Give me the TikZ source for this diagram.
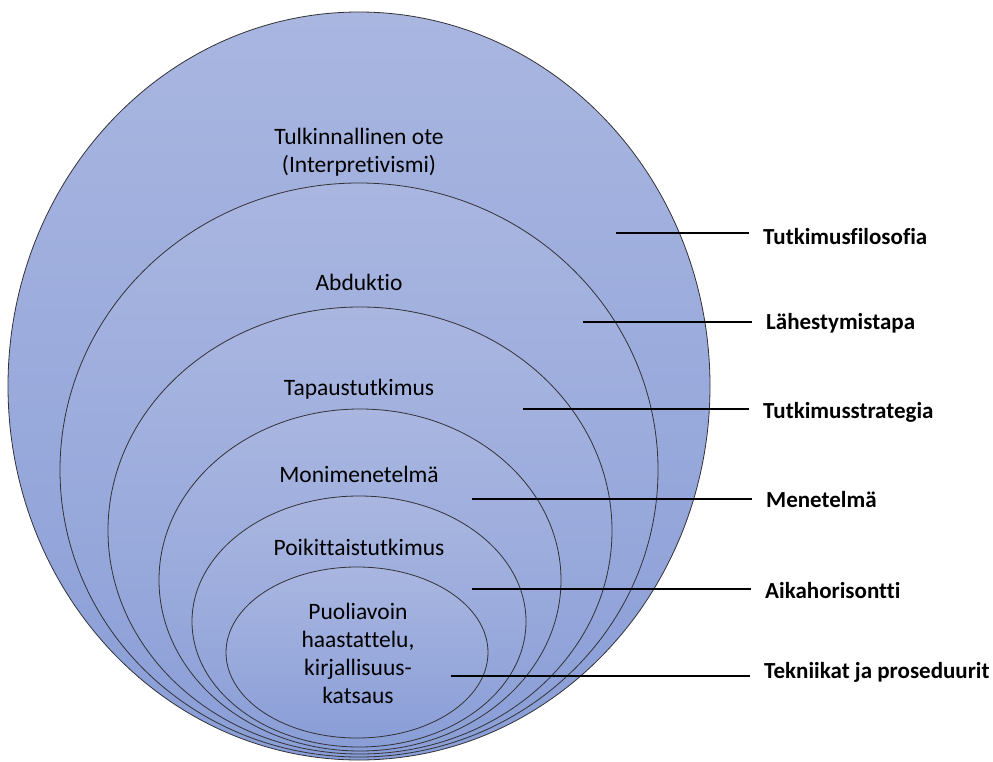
\documentclass[tikz,border=0pt]{standalone}
\usepackage{fontspec}
\setmainfont[Ligatures=NoCommon]{Carlito}
\usetikzlibrary{shapes.geometric,calc}
\definecolor{ctop}{RGB}{169,182,224}
\definecolor{cbot}{RGB}{138,158,215}
\definecolor{ringline}{RGB}{50,50,55}
\tikzset{
  ring/.style={ellipse, draw=ringline, line width=0.8pt, inner sep=0pt, outer sep=0pt,
    top color=ctop, bottom color=cbot},
  intext/.style={font=\fontsize{23.5}{28}\selectfont, align=center, inner sep=0pt, anchor=base},
  lab/.style={font=\fontsize{23}{28}\selectfont\bfseries, inner sep=0pt, anchor=base west},
  lead/.style={draw=black, line width=1.6pt}
}
\begin{document}
\begin{tikzpicture}[x=1pt,y=-1pt]
\useasboundingbox (0,0) rectangle (993,762);
% rings
\node[ring, minimum width=702pt, minimum height=748pt] (e1) at (359,386) {};
\node[ring, minimum width=598pt, minimum height=574pt] (e2) at (359,470) {};
\node[ring, minimum width=504pt, minimum height=447pt] (e3) at (360,530.5) {};
\node[ring, minimum width=402pt, minimum height=342pt] (e4) at (360,580) {};
\node[ring, minimum width=334pt, minimum height=251pt] (e5) at (359,621.5) {};
\node[ring, minimum width=262pt, minimum height=171pt] (e6) at (357,652.5) {};
% ring texts (base = baseline of last line)
\node[intext] (t1) at (359,173) {Tulkinnallinen ote\\(Interpretivismi)};
\node[intext] (t2) at (359,290) {Abduktio};
\node[intext] (t3) at (359,395) {Tapaustutkimus};
\node[intext] (t4) at (359,482) {Monimenetelmä};
\node[intext] (t5) at (359,555) {Poikittaistutkimus};
\node[intext] (t6) at (358,703) {Puoliavoin\\haastattelu,\\kirjallisuus-\\katsaus};
% labels
\node[lab] (l1) at (763,244) {Tutkimusfilosofia};
\node[lab] (l2) at (766,329) {Lähestymistapa};
\node[lab] (l3) at (763,418) {Tutkimusstrategia};
\node[lab] (l4) at (766,507) {Menetelmä};
\node[lab] (l5) at (765,598) {Aikahorisontti};
\node[lab] (l6) at (764,678) {Tekniikat ja proseduurit};
% leader start points
\coordinate (p1) at (616,233);
\coordinate (p2) at (583,322);
\coordinate (p3) at (523,409);
\coordinate (p4) at (472,499);
\coordinate (p5) at (472,589);
\coordinate (p6) at (451,676);
\foreach \i in {1,...,6}{
  \draw[lead] (p\i) -- ($(p\i -| l\i.west)+(-14,0)$);
}
\end{tikzpicture}
\end{document}
